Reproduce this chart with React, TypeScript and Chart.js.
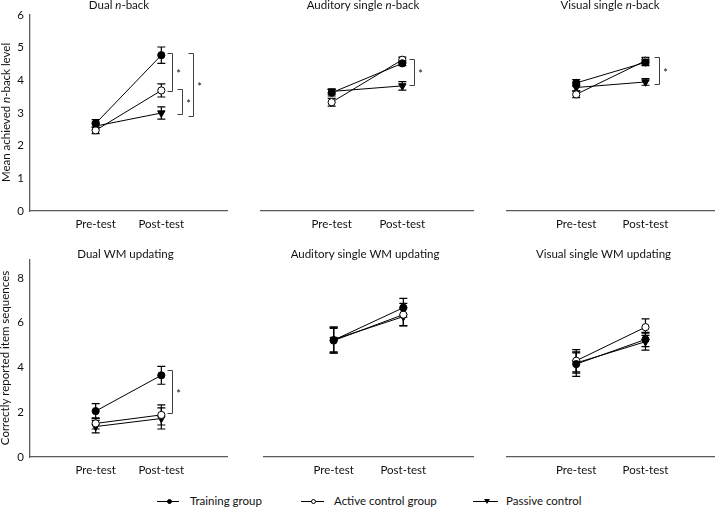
import React, { useEffect, useRef } from 'react';
import { Chart, registerables } from 'chart.js';

Chart.register(...registerables);

const FONT = 'Lato, "Noto Sans", sans-serif';
const TEXT = '#111111';

// ---------------- data ----------------
const categories = ['Pre-test', 'Post-test'];
const categoryPositions = [1, 2];
const groupNames = ['Training group', 'Active control group', 'Passive control'];
const nbackTicks = [0, 1, 2, 3, 4, 5, 6];
const wmTicks = [0, 2, 4, 6, 8];

// Dual n-back
const dualNbackTraining = [2.68, 4.77];
const dualNbackTrainingSE = [0.12, 0.25];
const dualNbackActive = [2.47, 3.69];
const dualNbackActiveSE = [0.1, 0.2];
const dualNbackPassive = [2.6, 3.0];
const dualNbackPassiveSE = [0.12, 0.19];
const dualNbackBrackets = [
  { x: 2.16, from: 4.83, to: 3.68 },
  { x: 2.31, from: 3.75, to: 2.96 },
  { x: 2.48, from: 4.83, to: 2.92 },
];

// Auditory single n-back
const audNbackTraining = [3.62, 4.52];
const audNbackTrainingSE = [0.1, 0.07];
const audNbackActive = [3.33, 4.63];
const audNbackActiveSE = [0.12, 0.08];
const audNbackPassive = [3.66, 3.83];
const audNbackPassiveSE = [0.08, 0.13];
const audNbackBrackets = [{ x: 2.16, from: 4.66, to: 3.86 }];

// Visual single n-back
const visNbackTraining = [3.92, 4.55];
const visNbackTrainingSE = [0.1, 0.1];
const visNbackActive = [3.57, 4.6];
const visNbackActiveSE = [0.1, 0.1];
const visNbackPassive = [3.78, 3.95];
const visNbackPassiveSE = [0.1, 0.1];
const visNbackBrackets = [{ x: 2.2, from: 4.7, to: 3.89 }];

// Dual WM updating
const dualWmTraining = [2.05, 3.65];
const dualWmTrainingSE = [0.33, 0.4];
const dualWmActive = [1.5, 1.88];
const dualWmActiveSE = [0.25, 0.45];
const dualWmPassive = [1.36, 1.72];
const dualWmPassiveSE = [0.28, 0.47];
const dualWmBrackets = [{ x: 2.17, from: 3.9, to: 1.95 }];

// Auditory single WM updating
const audWmTraining = [5.22, 6.67];
const audWmTrainingSE = [0.58, 0.42];
const audWmActive = [5.2, 6.36];
const audWmActiveSE = [0.55, 0.5];
const audWmPassive = [5.25, 6.27];
const audWmPassiveSE = [0.55, 0.4];

// Visual single WM updating
const visWmTraining = [4.15, 5.25];
const visWmTrainingSE = [0.55, 0.32];
const visWmActive = [4.3, 5.8];
const visWmActiveSE = [0.5, 0.37];
const visWmPassive = [4.2, 5.15];
const visWmPassiveSE = [0.45, 0.38];

type Part = { t: string; i?: boolean };
type Bracket = { x: number; from: number; to: number };

const panels: {
  title: Part[];
  yTitle?: Part[];
  series: number[][][];
  brackets: Bracket[];
  ticks: number[];
  yMax: number;
  showY: boolean;
}[] = [
  {
    title: [{ t: 'Dual ' }, { t: 'n', i: true }, { t: '-back' }],
    yTitle: [{ t: 'Mean achieved ' }, { t: 'n', i: true }, { t: '-back level' }],
    series: [
      [dualNbackTraining, dualNbackTrainingSE],
      [dualNbackActive, dualNbackActiveSE],
      [dualNbackPassive, dualNbackPassiveSE],
    ],
    brackets: dualNbackBrackets,
    ticks: nbackTicks,
    yMax: 6,
    showY: true,
  },
  {
    title: [{ t: 'Auditory single ' }, { t: 'n', i: true }, { t: '-back' }],
    series: [
      [audNbackTraining, audNbackTrainingSE],
      [audNbackActive, audNbackActiveSE],
      [audNbackPassive, audNbackPassiveSE],
    ],
    brackets: audNbackBrackets,
    ticks: nbackTicks,
    yMax: 6,
    showY: false,
  },
  {
    title: [{ t: 'Visual single ' }, { t: 'n', i: true }, { t: '-back' }],
    series: [
      [visNbackTraining, visNbackTrainingSE],
      [visNbackActive, visNbackActiveSE],
      [visNbackPassive, visNbackPassiveSE],
    ],
    brackets: visNbackBrackets,
    ticks: nbackTicks,
    yMax: 6,
    showY: false,
  },
  {
    title: [{ t: 'Dual WM updating' }],
    yTitle: [{ t: 'Correctly reported item sequences' }],
    series: [
      [dualWmTraining, dualWmTrainingSE],
      [dualWmActive, dualWmActiveSE],
      [dualWmPassive, dualWmPassiveSE],
    ],
    brackets: dualWmBrackets,
    ticks: wmTicks,
    yMax: 8.8,
    showY: true,
  },
  {
    title: [{ t: 'Auditory single WM updating' }],
    series: [
      [audWmTraining, audWmTrainingSE],
      [audWmActive, audWmActiveSE],
      [audWmPassive, audWmPassiveSE],
    ],
    brackets: [],
    ticks: wmTicks,
    yMax: 8.8,
    showY: false,
  },
  {
    title: [{ t: 'Visual single WM updating' }],
    series: [
      [visWmTraining, visWmTrainingSE],
      [visWmActive, visWmActiveSE],
      [visWmPassive, visWmPassiveSE],
    ],
    brackets: [],
    ticks: wmTicks,
    yMax: 8.8,
    showY: false,
  },
];

// ---------------- layout (page coordinates) ----------------
const layouts = [
  { cl: 0, ct: 0, l: 30, r: 227, t: 15, b: 211, tx: 119, ty: 9, yx: 10, yy: 112.5 },
  { cl: 240, ct: 0, l: 261, r: 473, t: 15, b: 211, tx: 363, ty: 9 },
  { cl: 480, ct: 0, l: 507, r: 720, t: 15, b: 211, tx: 610, ty: 9 },
  { cl: 0, ct: 240, l: 30, r: 227, t: 260, b: 457, tx: 125.5, ty: 258, yx: 9, yy: 358 },
  { cl: 240, ct: 240, l: 264, r: 473, t: 260, b: 457, tx: 365, ty: 258 },
  { cl: 480, ct: 240, l: 507, r: 720, t: 260, b: 457, tx: 603.5, ty: 258 },
];
const CW = 240;
const CH = 240;

const markerStyles = [
  { pointStyle: 'circle', radius: 3.6, bg: '#000', rotation: 0 },
  { pointStyle: 'circle', radius: 3.6, bg: '#fff', rotation: 0 },
  { pointStyle: 'triangle', radius: 4.3, bg: '#000', rotation: 180 },
];

function drawRich(ctx: CanvasRenderingContext2D, parts: Part[], x: number, y: number, size: number) {
  const fonts = parts.map((p) => `${p.i ? 'italic ' : ''}${size}px ${FONT}`);
  const widths = parts.map((p, k) => {
    ctx.font = fonts[k];
    return ctx.measureText(p.t).width;
  });
  const total = widths.reduce((a, b) => a + b, 0);
  let cx = x - total / 2;
  ctx.textAlign = 'left';
  ctx.textBaseline = 'alphabetic';
  parts.forEach((p, k) => {
    ctx.font = fonts[k];
    ctx.fillText(p.t, cx, y);
    cx += widths[k];
  });
}

function makeChart(canvas: HTMLCanvasElement, idx: number) {
  const p = panels[idx];
  const L = layouts[idx];
  const yWidth = p.showY ? L.l - L.cl : 0;
  const padLeft = L.l - L.cl - yWidth;
  const padRight = L.cl + CW - L.r;
  const padTop = L.t - L.ct;
  const xHeight = L.ct + CH - L.b;

  const datasets = p.series.map(([vals, errs], s) => ({
    label: groupNames[s],
    data: categoryPositions.map((x, i) => ({ x, y: vals[i] })),
    errorBars: errs,
    borderColor: '#000',
    borderWidth: 1,
    backgroundColor: markerStyles[s].bg,
    pointBackgroundColor: markerStyles[s].bg,
    pointBorderColor: '#000',
    pointBorderWidth: 1,
    pointStyle: markerStyles[s].pointStyle,
    pointRadius: markerStyles[s].radius,
    pointRotation: markerStyles[s].rotation,
    showLine: true,
    tension: 0,
    clip: false,
  }));

  const panelPlugin = {
    id: 'panelDecor' + idx,
    beforeDatasetsDraw(chart: any) {
      const ctx = chart.ctx;
      const yScale = chart.scales.y;
      ctx.save();
      ctx.strokeStyle = '#000';
      ctx.lineWidth = 1.2;
      chart.data.datasets.forEach((ds: any, di: number) => {
        const meta = chart.getDatasetMeta(di);
        meta.data.forEach((pt: any, i: number) => {
          const v = ds.data[i].y;
          const e = ds.errorBars[i];
          const x = pt.x;
          const yt = yScale.getPixelForValue(v + e);
          const yb = yScale.getPixelForValue(v - e);
          ctx.beginPath();
          ctx.moveTo(x, yt);
          ctx.lineTo(x, yb);
          ctx.moveTo(x - 4, yt);
          ctx.lineTo(x + 4, yt);
          ctx.moveTo(x - 4, yb);
          ctx.lineTo(x + 4, yb);
          ctx.stroke();
        });
      });
      ctx.restore();
    },
    afterDraw(chart: any) {
      const ctx = chart.ctx;
      const xScale = chart.scales.x;
      const yScale = chart.scales.y;
      ctx.save();
      ctx.fillStyle = TEXT;
      drawRich(ctx, p.title, L.tx - L.cl, L.ty - L.ct, 11.5);
      if (p.yTitle) {
        ctx.save();
        ctx.translate((L as any).yx - L.cl, (L as any).yy - L.ct);
        ctx.rotate(-Math.PI / 2);
        drawRich(ctx, p.yTitle, 0, 0, 11.5);
        ctx.restore();
      }
      ctx.strokeStyle = '#404040';
      ctx.lineWidth = 1;
      p.brackets.forEach((b) => {
        const px = Math.round(xScale.getPixelForValue(b.x)) + 0.5;
        const y1 = Math.round(yScale.getPixelForValue(b.from)) + 0.5;
        const y2 = Math.round(yScale.getPixelForValue(b.to)) + 0.5;
        ctx.beginPath();
        ctx.moveTo(px - 5, y1);
        ctx.lineTo(px, y1);
        ctx.lineTo(px, y2);
        ctx.lineTo(px - 5, y2);
        ctx.stroke();
        ctx.font = `11px ${FONT}`;
        ctx.textAlign = 'center';
        ctx.textBaseline = 'middle';
        ctx.fillText('*', px + 6, (y1 + y2) / 2 + 2);
      });
      ctx.restore();
    },
  };

  return new Chart(canvas, {
    type: 'line',
    data: { datasets } as any,
    options: {
      animation: false,
      responsive: false,
      events: [],
      layout: { padding: { left: padLeft, right: padRight, top: padTop, bottom: 0 } },
      plugins: { legend: { display: false }, title: { display: false }, tooltip: { enabled: false } },
      scales: {
        x: {
          type: 'linear',
          min: 0,
          max: 3,
          afterBuildTicks: (scale: any) => {
            scale.ticks = categoryPositions.map((v) => ({ value: v }));
          },
          afterFit: (scale: any) => {
            scale.height = xHeight;
          },
          grid: { display: false, drawTicks: false },
          border: { display: true, color: '#5a5a5a', width: 1.3 },
          ticks: {
            autoSkip: false,
            maxRotation: 0,
            padding: 6,
            color: TEXT,
            font: { family: FONT, size: 11.5 },
            callback: (v: any) => categories[categoryPositions.indexOf(Number(v))] ?? '',
          },
        },
        y: {
          type: 'linear',
          display: p.showY,
          min: 0,
          max: p.yMax,
          afterBuildTicks: (scale: any) => {
            scale.ticks = p.ticks.map((v) => ({ value: v }));
          },
          afterFit: (scale: any) => {
            scale.width = yWidth;
          },
          grid: { display: false, drawTicks: false },
          border: { display: true, color: '#5a5a5a', width: 1.3 },
          ticks: {
            padding: 6,
            color: TEXT,
            font: { family: FONT, size: 11.5 },
          },
        },
      },
    } as any,
    plugins: [panelPlugin],
  });
}

function LegendMarker({ kind }: { kind: number }) {
  if (kind === 2) {
    return (
      <div
        style={{
          position: 'absolute',
          left: -3,
          top: -2,
          width: 0,
          height: 0,
          borderLeft: '3px solid transparent',
          borderRight: '3px solid transparent',
          borderTop: '5px solid #000',
        }}
      />
    );
  }
  return (
    <div
      style={{
        position: 'absolute',
        left: -2.5,
        top: -2.5,
        width: 5,
        height: 5,
        boxSizing: 'border-box',
        borderRadius: '50%',
        border: '1px solid #000',
        background: kind === 0 ? '#000' : '#fff',
      }}
    />
  );
}

const legendLayout = [
  { x1: 157, x2: 179, m: 169, tx: 190 },
  { x1: 301, x2: 324, m: 313, tx: 334 },
  { x1: 473, x2: 498, m: 487, tx: 506 },
];
const legendY = 501;

export default function App() {
  const refs = useRef<(HTMLCanvasElement | null)[]>([]);

  useEffect(() => {
    const charts = panels.map((_, i) => makeChart(refs.current[i] as HTMLCanvasElement, i));
    return () => charts.forEach((c) => c.destroy());
  }, []);

  return (
    <div
      style={{
        position: 'absolute',
        left: 0,
        top: 0,
        width: 720,
        height: 507,
        background: '#fff',
        overflow: 'hidden',
        fontFamily: FONT,
      }}
    >
      {layouts.map((L, i) => (
        <canvas
          key={i}
          ref={(el) => {
            refs.current[i] = el;
          }}
          width={CW}
          height={CH}
          style={{ position: 'absolute', left: L.cl, top: L.ct, width: CW, height: CH }}
        />
      ))}
      {groupNames.map((name, k) => {
        const g = legendLayout[k];
        return (
          <React.Fragment key={name}>
            <div
              style={{
                position: 'absolute',
                left: g.x1,
                top: legendY - 0.5,
                width: g.x2 - g.x1,
                height: 1,
                background: '#000',
              }}
            />
            <div style={{ position: 'absolute', left: g.m, top: legendY }}>
              <LegendMarker kind={k} />
            </div>
            <div
              style={{
                position: 'absolute',
                left: g.tx,
                top: legendY - 8,
                lineHeight: '16px',
                fontSize: 11.5,
                color: TEXT,
                whiteSpace: 'nowrap',
              }}
            >
              {name}
            </div>
          </React.Fragment>
        );
      })}
    </div>
  );
}
